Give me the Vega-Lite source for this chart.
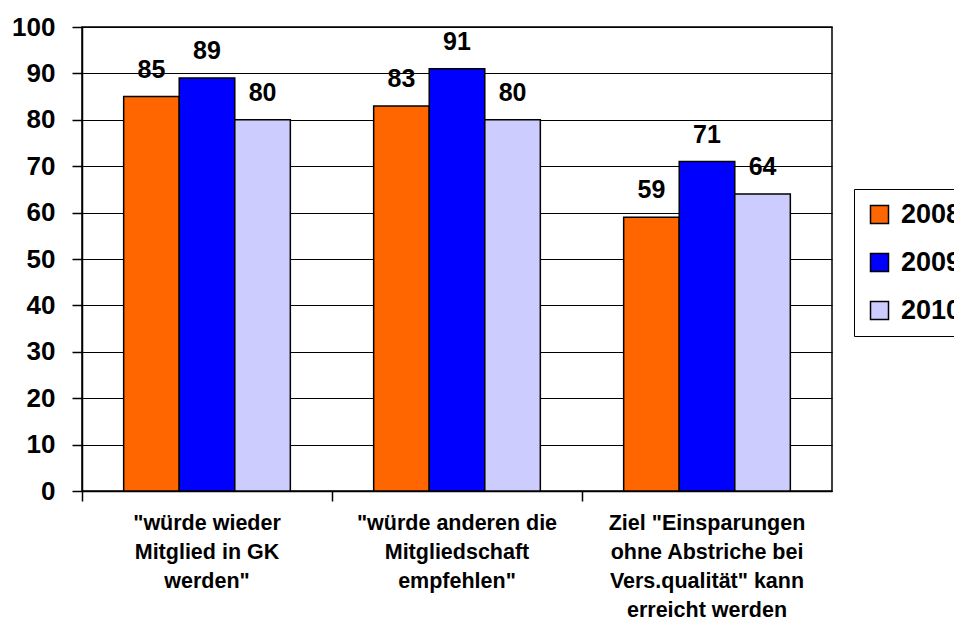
{
  "$schema": "https://vega.github.io/schema/vega-lite/v6.json",
  "width": 750,
  "height": 464,
  "autosize": {"type": "none"},
  "padding": {"left": 82, "top": 27, "right": 122, "bottom": 129},
  "background": "white",
  "data": {
    "values": [
      {"cat": "\"würde wieder|Mitglied in GK|werden\"", "year": "2008", "value": 85},
      {"cat": "\"würde wieder|Mitglied in GK|werden\"", "year": "2009", "value": 89},
      {"cat": "\"würde wieder|Mitglied in GK|werden\"", "year": "2010", "value": 80},
      {"cat": "\"würde anderen die|Mitgliedschaft|empfehlen\"", "year": "2008", "value": 83},
      {"cat": "\"würde anderen die|Mitgliedschaft|empfehlen\"", "year": "2009", "value": 91},
      {"cat": "\"würde anderen die|Mitgliedschaft|empfehlen\"", "year": "2010", "value": 80},
      {"cat": "Ziel \"Einsparungen|ohne Abstriche bei|Vers.qualität\" kann|erreicht werden", "year": "2008", "value": 59},
      {"cat": "Ziel \"Einsparungen|ohne Abstriche bei|Vers.qualität\" kann|erreicht werden", "year": "2009", "value": 71},
      {"cat": "Ziel \"Einsparungen|ohne Abstriche bei|Vers.qualität\" kann|erreicht werden", "year": "2010", "value": 64}
    ]
  },
  "encoding": {
    "x": {
      "field": "cat",
      "type": "nominal",
      "sort": null,
      "scale": {"paddingInner": 0, "paddingOuter": 0},
      "axis": {
        "title": null,
        "labelAngle": 0,
        "labelExpr": "split(datum.label, '|')",
        "labelFontSize": 21.5,
        "labelFontWeight": "bold",
        "labelLineHeight": 29,
        "labelPadding": 11,
        "labelLimit": 0,
        "labelColor": "black",
        "bandPosition": 0,
        "tickSize": 10,
        "tickColor": "black",
        "tickWidth": 1.5,
        "domainColor": "black",
        "domainWidth": 1.5
      }
    },
    "xOffset": {
      "field": "year",
      "type": "nominal",
      "scale": {"paddingInner": 0, "paddingOuter": 0.75}
    },
    "y": {
      "field": "value",
      "type": "quantitative",
      "scale": {"domain": [0, 100]},
      "axis": {
        "title": null,
        "values": [0, 10, 20, 30, 40, 50, 60, 70, 80, 90, 100],
        "labelFontSize": 26,
        "labelFontWeight": "bold",
        "labelColor": "black",
        "labelPadding": 17,
        "tickSize": 10,
        "tickColor": "black",
        "tickWidth": 1.5,
        "domainColor": "black",
        "domainWidth": 1.5,
        "grid": true,
        "gridColor": "black",
        "gridOpacity": 1,
        "gridWidth": 1
      }
    }
  },
  "layer": [
    {
      "mark": {"type": "bar", "stroke": "black", "strokeWidth": 1.5, "opacity": 1},
      "encoding": {
        "color": {
          "field": "year",
          "type": "nominal",
          "scale": {"domain": ["2008", "2009", "2010"], "range": ["#FF6600", "#0000FF", "#CCCCFF"]},
          "legend": {
            "title": null,
            "orient": "none",
            "legendX": 772,
            "legendY": 162,
            "symbolType": "square",
            "symbolSize": 324,
            "symbolStrokeColor": "black",
            "symbolStrokeWidth": 1.5,
            "symbolOpacity": 1,
            "labelFontSize": 27,
            "labelFontWeight": "bold",
            "labelColor": "black",
            "labelOffset": 8,
            "rowPadding": 20,
            "padding": 12,
            "strokeColor": "black",
            "fillColor": "white"
          }
        }
      }
    },
    {
      "mark": {"type": "text", "dy": -19, "baseline": "alphabetic", "fontSize": 25, "fontWeight": "bold", "color": "black"},
      "encoding": {"text": {"field": "value", "type": "quantitative"}}
    }
  ],
  "config": {
    "font": "Liberation Sans",
    "view": {"stroke": "black", "strokeWidth": 1.5}
  }
}
